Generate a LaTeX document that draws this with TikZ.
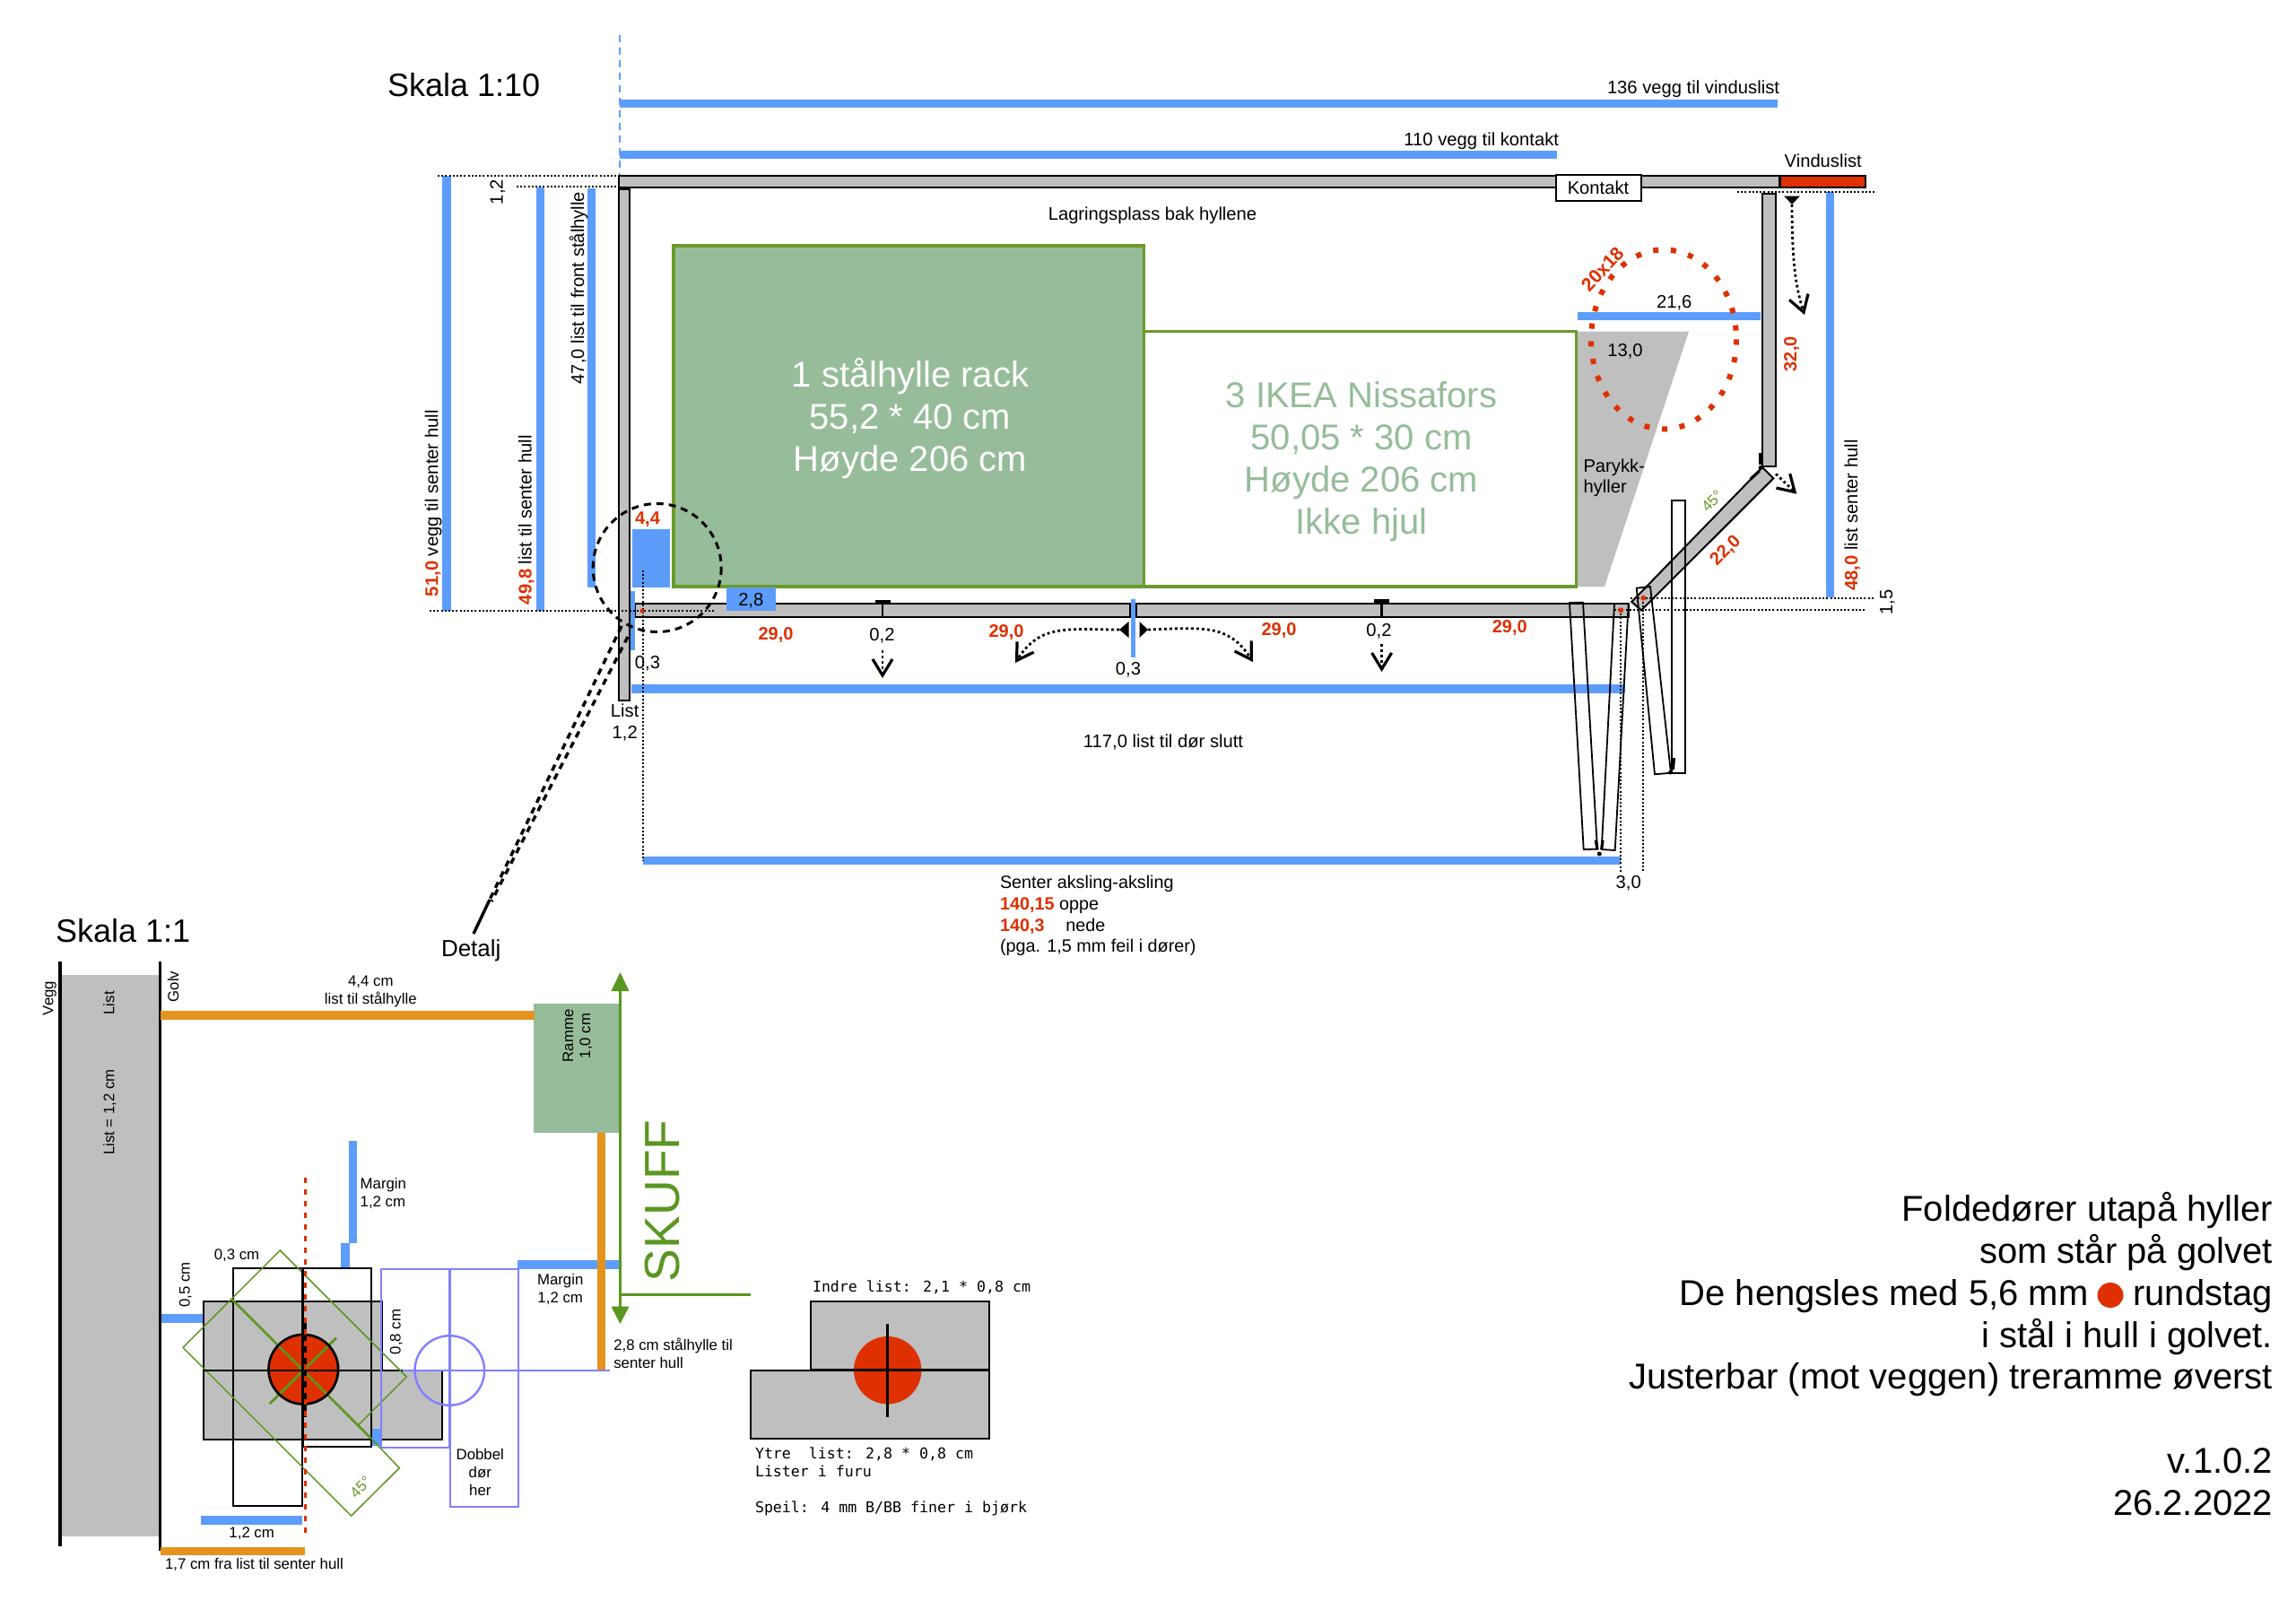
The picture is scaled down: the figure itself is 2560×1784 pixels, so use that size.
\documentclass[tikz,border=0pt]{standalone}
\usepackage{fontspec}
\setmainfont{Liberation Sans}
\newfontfamily\monof{DejaVu Sans Mono}
\usetikzlibrary{arrows.meta}
\newcommand\fsz[2]{\fontsize{#1}{#2}\selectfont}
\definecolor{bl}{HTML}{5C9DFC}
\definecolor{rd}{HTML}{DE3000}
\definecolor{gy}{HTML}{BFBFBF}
\definecolor{gr}{HTML}{6B9A2B}
\definecolor{grd}{HTML}{5A9620}
\definecolor{gf}{HTML}{96BC9A}
\definecolor{og}{HTML}{E5931F}
\definecolor{pu}{HTML}{8080FF}
\tikzset{
  bar/.style={draw=bl,line width=4.7pt},
  obar/.style={draw=og,line width=4.7pt},
  wall/.style={fill=gy,draw=black,line width=1pt},
  thin door/.style={draw=black,line width=.9pt},
  dott/.style={draw=black,line width=.9pt,dash pattern=on 1pt off 1.1pt},
  dashc/.style={draw=black,line width=1.5pt,dash pattern=on 4pt off 3pt},
  tx/.style={inner sep=0pt,outer sep=0pt,anchor=base,font=\fsz{10.1}{11.8}},
  txl/.style={tx,anchor=base west},
  txr/.style={tx,anchor=base east},
  sm/.style={inner sep=0pt,outer sep=0pt,anchor=base,font=\fsz{8.4}{10}},
  sml/.style={sm,anchor=base west},
  big/.style={inner sep=0pt,outer sep=0pt,anchor=base east,font=\fsz{20}{23.5}},
  shelf/.style={inner sep=0pt,outer sep=0pt,anchor=base,font=\fsz{20}{23.5}},
  mono/.style={inner sep=0pt,outer sep=0pt,anchor=base west,font=\monof\fsz{8.3}{10}},
  red lab/.style={tx,text=rd,font=\bfseries\fsz{10}{11.8}},
  barb/.style={-{Straight Barb[length=9pt,width=11pt,line width=1.6pt]}},
  dotarrow/.style={barb,draw=black,line width=1.4pt,dash pattern=on 1.4pt off 1.6pt},
}
\begin{document}
\begin{tikzpicture}[x=0.5pt,y=-0.5pt]
\useasboundingbox (0,0) rectangle (2560,1784);
\fill[white] (0,0) rectangle (2560,1784);

% ---------- Skala 1:10 ----------
\node[tx,anchor=base west,font=\fsz{18}{21}] (skala10) at (432,107) {Skala 1:10};
\draw[draw=bl,line width=1.3pt,dash pattern=on 4pt off 3pt] (691,39) -- (691,209);

\draw[bar] (691,115.7) -- (1982,115.7);
\draw[bar] (691,172.3) -- (1736,172.3);
\node[txr] (l136) at (1984,104) {136 vegg til vinduslist};
\node[txr] (l110) at (1738,162) {110 vegg til kontakt};

% shelves
\fill[gy] (1759,369.5) -- (1883,369.5) -- (1789,654) -- (1759,654) -- cycle;
\draw[fill=gf,draw=gr,line width=1.7pt] (751,274) rectangle (1275.7,654);
\draw[fill=white,draw=gr,line width=1.7pt] (1275.7,369.5) rectangle (1757.5,654);
\node[shelf,text=white,align=center] (rack) at (1015,525.7) {1 stålhylle rack\\55,2 * 40 cm\\Høyde 206 cm};
\node[shelf,text=gf,align=center] (ikea) at (1518,595.6) {3 IKEA Nissafors\\50,05 * 30 cm\\Høyde 206 cm\\Ikke hjul};

% walls
\draw[wall] (690,196) rectangle (1984,209);
\draw[fill=rd,draw=black,line width=1.2pt] (1984.6,196) rectangle (2080,209);
\node[draw=black,line width=1.2pt,fill=white,minimum width=47.5pt,minimum height=14.5pt,inner sep=0pt,outer sep=0pt] (kontaktbox) at (1782.5,209.5) {};
\node[tx] (kontakt) at (1782,216.7) {Kontakt};
\node[tx] (vindus) at (2032.7,186) {Vinduslist};
\draw[wall] (690,211) rectangle (702,781);
\draw[wall] (708,673) rectangle (1260,688);
\draw[wall] (1267,673) rectangle (1816,688);
\draw[wall] (1965,215.5) rectangle (1980,519.5);
\draw[wall] (1819.3,671) -- (1830,680.5) -- (1977.3,533.3) -- (1965,521) -- cycle;

% vertical dimension bars
\draw[bar] (498,196) -- (498,681);
\draw[bar] (602.3,209) -- (602.3,681);
\draw[bar] (659.7,210) -- (659.7,655);
\draw[bar] (2040.4,214) -- (2040.4,666);
\draw[bar] (1758.6,352.6) -- (1963,352.6);
\draw[bar] (703.7,768) -- (1812,768);
\draw[bar] (717,959.7) -- (1806.7,959.7);
\fill[bl] (705,590) rectangle (746.7,655);
\fill[bl] (810,654.7) rectangle (865,681);
\draw[draw=bl,line width=2.3pt] (705.7,659) -- (705.7,725);
\draw[draw=bl,line width=2.5pt] (1263.8,667.7) -- (1263.8,733);

% dotted guides
\draw[dott] (488,196) -- (851,196);
\draw[dott] (576,208) -- (690,208);
\draw[dott] (1937,214) -- (2092,214);
\draw[dott] (479,681) -- (798,681);
\draw[dott] (717,636) -- (717,960);
\draw[dott] (1818,666.7) -- (2090,666.7);
\draw[dott] (1800,680) -- (2080,680);
\draw[dott] (1807,680) -- (1807,972);
\draw[dott] (1832,667) -- (1832,972);

% doors
\draw[thin door] (1750,672) -- (1765,671.7) -- (1781,946.7) -- (1765.7,947) -- cycle;
\draw[thin door] (1800,673) -- (1815.7,673) -- (1800.7,948) -- (1785.7,947) -- cycle;
\draw[thin door] (1824.7,655.7) -- (1840,654) -- (1863,861.7) -- (1845,863.3) -- cycle;
\draw[thin door] (1863.7,558.3) rectangle (1879,862);
\draw[black,line width=1.6pt] (1779.3,936.7) -- (1781,947);
\draw[black,line width=1.6pt] (1787,936.7) -- (1785.7,947);
\draw[black,line width=2pt] (1866,845) -- (1865,858);
\fill[black] (1783.3,952) circle (2.5);
\fill[black] (1862.7,861) circle (2.5);
\fill[rd] (1807.3,680.3) circle (3);
\fill[rd] (1832.3,666.7) circle (3);
\fill[rd] (716,681) circle (2.5);

% hinge marks
\draw[black,line width=1.6pt] (1962.3,505) -- (1962.3,518);
\fill[black] (1963,521.5) circle (2.5);
\draw[black,line width=1.6pt] (1951.7,534.3) -- (1961.7,525);

% tics
\draw[black,line width=1.2pt] (984,670) -- (984,688);
\draw[black,line width=1.6pt] (975.5,671) -- (992.5,671);
\draw[black,line width=1.2pt] (1540.6,669) -- (1540.6,688);
\draw[black,line width=1.6pt] (1532,670) -- (1549,670);

% arrows
\fill[black] (1248,702) -- (1258.5,693) -- (1258.5,711) -- cycle;
\fill[black] (1280,702) -- (1270.5,693) -- (1270.5,711) -- cycle;
\fill[black] (1989,218.5) -- (2007,218.5) -- (1998,228) -- cycle;
\draw[dotarrow] (1248,702) .. controls (1190,702) and (1160,695) .. (1132,739);
\draw[dotarrow] (1280,702) .. controls (1340,700) and (1370,695) .. (1397,738);
\draw[dotarrow] (984,725) -- (984,756);
\draw[dotarrow] (1540.6,718) -- (1540.6,749);
\draw[dotarrow] (1998,228) .. controls (1998,290) and (2002,320) .. (2012,351);
\draw[dotarrow] (1980,528.3) -- (2003.3,550.7);

% red ellipse, detail circle
\draw[rd,line width=3pt,dash pattern=on 3pt off 6.9pt] (1855,378.4) ellipse (81 and 100);
\draw[dashc] (732.7,633) circle (71.5);
\draw[black,line width=1.7pt,dash pattern=on 3.6pt off 3pt] (693,698) -- (597,898) -- (545,1005);
\draw[black,line width=1.7pt,dash pattern=on 3.6pt off 3pt] (700,710) -- (603,898) -- (548,1005);
\draw[black,line width=1.7pt] (546,1003) -- (528,1041);

% labels, top view
\node[tx] (lager) at (1285,245.4) {Lagringsplass bak hyllene};
\node[tx,rotate=90] (l12a) at (560.7,214) {1,2};
\node[txl,rotate=90] (l47) at (651,428.3) {47,0 list til front stålhylle};
\node[txl,rotate=90] (l51) at (488.3,665) {\textcolor{rd}{\textbf{51,0}} vegg til senter hull};
\node[txl,rotate=90] (l49) at (592.7,674) {\textcolor{rd}{\textbf{49,8}} list til senter hull};
\node[txl,rotate=90] (l48) at (2071,658.7) {\textcolor{rd}{\textbf{48,0}} list senter hull};
\node[red lab] (r44) at (722,584) {4,4};
\node[tx] (l28) at (837.3,675) {2,8};
\node[red lab] (r29a) at (865,713.3) {29,0};
\node[red lab] (r29b) at (1122,710.7) {29,0};
\node[red lab] (r29c) at (1426,708.7) {29,0};
\node[red lab] (r29d) at (1683.3,705.7) {29,0};
\node[tx] (l03a) at (722,745) {0,3};
\node[tx] (l03b) at (1258,752.7) {0,3};
\node[tx] (l02a) at (983.5,714) {0,2};
\node[tx] (l02b) at (1537.5,709) {0,2};
\node[tx,align=center] (llist) at (696.7,823.3) {List\\1,2};
\node[tx] (l117) at (1297,833.3) {117,0 list til dør slutt};
\node[txl,align=left,font=\fsz{9.9}{11.8}] (senter) at (1115,1061.7) {Senter aksling-aksling\\\textcolor{rd}{\textbf{140,15}} oppe\\\textcolor{rd}{\textbf{140,3}}\hspace{1.2em}nede\\(pga. 1,5 mm feil i dører)};
\node[tx] (l30) at (1815.7,990.7) {3,0};
\node[tx,rotate=90] (l15) at (2110,671.7) {1,5};
\node[tx,rotate=90,text=rd,font=\bfseries\fsz{10}{11.8}] (r32) at (2003,394.7) {32,0};
\node[tx] (l216) at (1866.7,343) {21,6};
\node[tx] (l130) at (1812,397.4) {13,0};
\node[txl,align=left] (parykk) at (1765.5,549.7) {Parykk-\\hyller};
\node[tx,rotate=47,text=rd,font=\bfseries\fsz{10.5}{13}] (r2018) at (1792,305) {20x18};
\node[tx,rotate=45,text=rd,font=\bfseries\fsz{10}{11.8}] (r22) at (1928,618) {22,0};
\node[sm,rotate=45,text=gr] (a45a) at (1913,563) {45°};

% ---------- Skala 1:1 ----------
\node[tx,anchor=base west,font=\fsz{18}{21}] (skala1) at (62,1050) {Skala 1:1};
\node[tx,anchor=base west,font=\fsz{13}{15}] (detalj) at (492,1066) {Detalj};
\fill[gy] (68,1087) rectangle (177,1713);
\draw[black,line width=1.8pt] (67,1072) -- (67,1724);
\draw[black,line width=1.8pt] (178.3,1072) -- (178.3,1729);
\node[sm,rotate=90] (vegg) at (59.3,1113) {Vegg};
\node[sm,rotate=90] (golv) at (199,1100) {Golv};
\node[sm,rotate=90] (list1) at (127.4,1118.3) {List};
\node[sm,rotate=90] (list2) at (127.4,1240) {List = 1,2 cm};

\fill[gf] (595,1119) rectangle (691,1263);
\draw[obar] (179,1132) -- (596,1132);
\node[sm,rotate=90] (ramme1) at (639,1155) {Ramme};
\node[sm,rotate=90] (ramme2) at (658,1155) {1,0 cm};
\node[sm,align=center] (l44) at (413.3,1119.3) {4,4 cm\\list til stålhylle};

% gray lists
\draw[draw=black,fill=gy,line width=1pt] (227,1451) rectangle (426.3,1527.7);
\draw[draw=black,fill=gy,line width=1pt] (227,1527.7) rectangle (493,1604.7);
\fill[rd] (338.3,1526.7) circle (38.8);

% blue & orange dimensions
\draw[bar] (393.3,1272) -- (393.3,1386);
\draw[bar] (385,1386) -- (385,1414);
\draw[bar] (180,1470) -- (226,1470);
\draw[bar] (223.7,1695) -- (337.3,1695);
\draw[obar] (178.7,1729.3) -- (339.7,1729.3);
\draw[bar] (576.7,1410) -- (690.7,1410);
\draw[obar] (670.7,1263) -- (670.7,1527);
\fill[bl] (414,1592.7) rectangle (424.7,1612);

% black door rectangles
\draw[thin door] (260.3,1413.7) rectangle (336.7,1679);
\draw[thin door] (338,1413.7) rectangle (414.3,1612.7);

% green rotated doors
\draw[grd,line width=.75pt] (204,1502.3) -- (312.3,1394) -- (453.3,1535) -- (399.3,1589);
\draw[grd,line width=.75pt] (204,1502.3) -- (391.7,1690) -- (445.3,1636.7) -- (413,1603);
\draw[grd,line width=1.4pt] (259,1449) -- (413.3,1603.3);
\draw[grd,line width=1.4pt] (300.7,1565) -- (375,1491.7);
\node[sm,rotate=45,text=gr] (a45b) at (406,1662) {45°};

% cross and red circle ring
\draw[black,line width=1.35pt] (338.3,1526.7) circle (38.8);
\draw[black,line width=1.2pt] (227,1527.7) -- (426,1527.7);
\draw[black,line width=1.5pt] (337.7,1413.7) -- (337.7,1612);
\draw[black,line width=1.5pt] (340.3,1475) -- (340.3,1580);
\draw[draw=rd,line width=1.3pt,dash pattern=on 3pt off 3.5pt] (340.3,1313) -- (340.3,1710);

% purple double door
\draw[pu,line width=.85pt] (424.7,1415) rectangle (500.7,1613.7);
\draw[pu,line width=.85pt] (501.7,1415) rectangle (578,1680);
\draw[pu,line width=1.2pt] (449.3,1528) -- (680,1528);
\draw[pu,line width=1.2pt] (501.3,1528) circle (38.8);

% green arrow
\draw[grd,line width=1.3pt] (691.5,1100) -- (691.5,1460);
\fill[grd] (691.5,1084) -- (681.5,1105) -- (701.5,1105) -- cycle;
\fill[grd] (691.5,1476) -- (681.5,1456.7) -- (701.5,1456.7) -- cycle;
\draw[grd,line width=1.3pt] (692,1443.7) -- (837,1443.7);
\node[inner sep=0pt,outer sep=0pt,anchor=base west,rotate=90,text=grd,font=\fsz{27.5}{32}] (skuff) at (757,1429) {SKUFF};

% small labels
\node[sml,align=left] (marg1) at (401.7,1345) {Margin\\1,2 cm};
\node[sm,align=center] (marg2) at (624.7,1452.3) {Margin\\1,2 cm};
\node[sm] (l03c) at (264,1404) {0,3 cm};
\node[sm,rotate=90] (l05) at (211.7,1432.7) {0,5 cm};
\node[sm,rotate=90] (l08) at (446.7,1485) {0,8 cm};
\node[sm] (l12c) at (280.7,1714) {1,2 cm};
\node[sml] (l17) at (184,1749) {1,7 cm fra list til senter hull};
\node[sm,align=center] (dobbel) at (535.3,1667.7) {Dobbel\\dør\\her};
\node[sml,align=left] (l28b) at (684.3,1525) {2,8 cm stålhylle til\\senter hull};

% right profile
\draw[draw=black,fill=gy,line width=1pt] (903.7,1451) rectangle (1103,1527.7);
\draw[draw=black,fill=gy,line width=1pt] (837.3,1527.7) rectangle (1103,1604.3);
\fill[rd] (989.7,1527.7) circle (37.7);
\draw[black,line width=1.4pt] (904,1527.7) -- (1103,1527.7);
\draw[black,line width=1.7pt] (989.7,1476) -- (989.7,1580);
\node[mono] (indre) at (906,1440.7) {Indre list: 2,1 * 0,8 cm};
\node[mono,align=left] (ytre) at (842,1686.7) {Ytre\ \ list: 2,8 * 0,8 cm\\Lister i furu\\[10pt]Speil: 4 mm B/BB finer i bjørk};

% text block
\node[big] (t1) at (2534,1361.7) {Foldedører utapå hyller};
\node[big] (t2) at (2534,1408) {som står på golvet};
\node[big] (t3a) at (2328.5,1455) {De hengsles med 5,6 mm};
\fill[rd] (2353,1444) ellipse (14.5 and 14);
\node[big] (t3b) at (2534,1455) {rundstag};
\node[big] (t4) at (2534,1502) {i stål i hull i golvet.};
\node[big] (t5) at (2534,1548) {Justerbar (mot veggen) treramme øverst};
\node[big] (t6) at (2534,1642) {v.1.0.2};
\node[big] (t7) at (2534,1689) {26.2.2022};
\end{tikzpicture}
\end{document}
